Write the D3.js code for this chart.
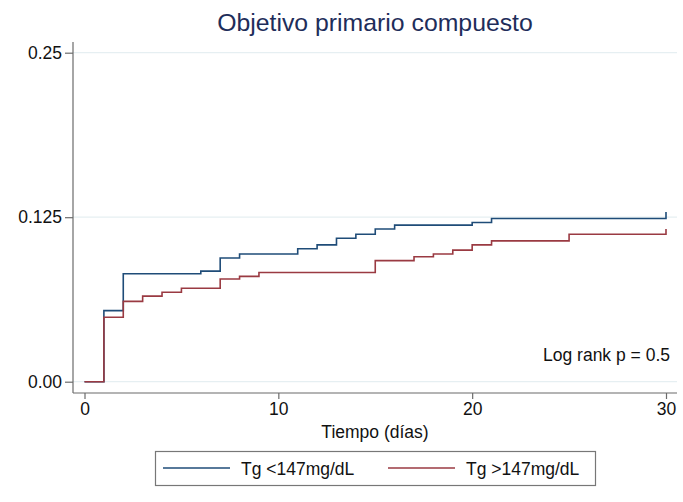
<!DOCTYPE html>
<html>
<head>
<meta charset="utf-8">
<script src="https://cdn.jsdelivr.net/npm/d3@7"></script>
<style>
  body { margin: 0; background: #fff; }
  text { font-family: "Liberation Sans", Arial, Helvetica, sans-serif; }
</style>
</head>
<body>
<div id="chart"></div>
<script>
// step curves (time in days, cumulative incidence)
const timesLow = [0, 1, 2, 6, 7, 8, 11, 12, 13, 14, 15, 16, 20, 21, 30];
const valuesLow = [0, 0.054, 0.082, 0.084, 0.094, 0.097, 0.101, 0.104, 0.109, 0.112, 0.116, 0.119, 0.121, 0.124, 0.129];

const timesHigh = [0, 1, 2, 3, 4, 5, 7, 8, 9, 15, 17, 18, 19, 20, 21, 25, 30];
const valuesHigh = [0, 0.049, 0.061, 0.065, 0.068, 0.071, 0.078, 0.080, 0.083, 0.092, 0.095, 0.097, 0.100, 0.104, 0.107, 0.112, 0.116];

const seriesNames = ["Tg <147mg/dL", "Tg >147mg/dL"];
const xTicks = [0, 10, 20, 30];
const yTicks = [0, 0.125, 0.25];
const yTickLabels = ["0.00", "0.125", "0.25"];

const width = 683;
const height = 502;
const colors = ["#1f4c78", "#9a3a42"];

const svg = d3.select("#chart")
              .append("svg")
              .attr("width", width)
              .attr("height", height);

const x = d3.scaleLinear().domain([0, 30]).range([84.5, 666]);
const y = d3.scaleLinear().domain([0, 0.25]).range([381.7, 52.7]);

const plotLeft = 73, plotRight = 677, plotTop = 42, plotBottom = 393;

// title
svg.append("text")
   .attr("x", 375)
   .attr("y", 31)
   .attr("text-anchor", "middle")
   .attr("font-size", 24.8)
   .attr("fill", "#1e2d5a")
   .text("Objetivo primario compuesto");

// grid lines
svg.append("g")
   .selectAll("line")
   .data(yTicks)
   .enter()
   .append("line")
   .attr("x1", plotLeft)
   .attr("x2", plotRight)
   .attr("y1", d => y(d))
   .attr("y2", d => y(d))
   .attr("stroke", "#e6eff2")
   .attr("stroke-width", 1.2);

// y axis
const yAxis = svg.append("g")
   .attr("transform", `translate(${plotLeft},0)`)
   .call(d3.axisLeft(y).tickValues(yTicks).tickFormat((d, i) => yTickLabels[i]).tickSize(8).tickPadding(3));
yAxis.select(".domain").attr("d", `M0,${plotTop}V${plotBottom}`);

// x axis
const xAxis = svg.append("g")
   .attr("transform", `translate(0,${plotBottom})`)
   .call(d3.axisBottom(x).tickValues(xTicks).tickSize(6).tickPadding(4));
xAxis.select(".domain").attr("d", `M${plotLeft},0H${plotRight}`);

[yAxis, xAxis].forEach(a => {
  a.selectAll(".domain, line").attr("stroke", "#6b6b6b").attr("stroke-width", 1.2);
  a.selectAll("text")
   .attr("font-size", 17.5)
   .attr("fill", "#111")
   .attr("font-family", "Liberation Sans, Arial, sans-serif");
});

// x axis title
svg.append("text")
   .attr("x", 375)
   .attr("y", 438)
   .attr("text-anchor", "middle")
   .attr("font-size", 17.5)
   .attr("fill", "#111")
   .text("Tiempo (días)");

// step lines
const line = d3.line()
               .x(d => x(d[0]))
               .y(d => y(d[1]))
               .curve(d3.curveStepAfter);

const series = [
  d3.zip(timesLow, valuesLow),
  d3.zip(timesHigh, valuesHigh)
];

// second group is drawn last, on top, as in the original
series.forEach((s, i) => {
  svg.append("path")
     .datum(s)
     .attr("d", line)
     .attr("fill", "none")
     .attr("stroke", colors[i])
     .attr("stroke-width", 1.6);
});

// log rank annotation
svg.append("text")
   .attr("x", 670)
   .attr("y", 361)
   .attr("text-anchor", "end")
   .attr("font-size", 17.5)
   .attr("fill", "#111")
   .text("Log rank p = 0.5");

// legend
const legend = svg.append("g");
legend.append("rect")
      .attr("x", 155.5)
      .attr("y", 451.5)
      .attr("width", 440)
      .attr("height", 34)
      .attr("fill", "#fff")
      .attr("stroke", "#777")
      .attr("stroke-width", 1.2);

const items = legend.selectAll("g")
                    .data(seriesNames)
                    .enter()
                    .append("g")
                    .attr("transform", (d, i) => `translate(${163 + i * 225},0)`);

items.append("line")
     .attr("x1", 0)
     .attr("x2", 67)
     .attr("y1", 468)
     .attr("y2", 468)
     .attr("stroke", (d, i) => colors[i])
     .attr("stroke-width", 1.6);

items.append("text")
     .attr("x", 78)
     .attr("y", 474.5)
     .attr("font-size", 17.5)
     .attr("fill", "#111")
     .text(d => d);
</script>
</body>
</html>
